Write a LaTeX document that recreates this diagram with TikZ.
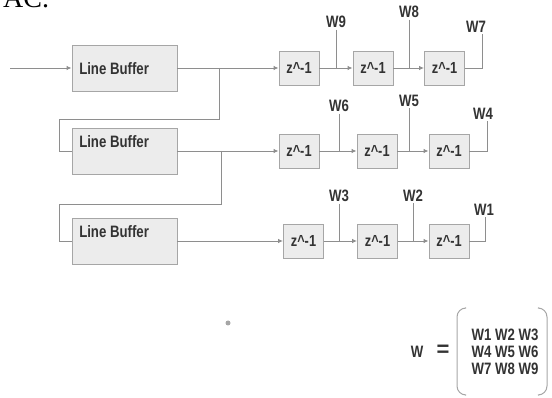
\documentclass[tikz,border=0pt]{standalone}
\usepackage{fontspec}
\setmainfont{Liberation Sans}
\newfontfamily\narrowfont[FakeStretch=0.8]{Liberation Sans}
\newfontfamily\capfont{Liberation Serif}
\usepackage{xcolor}
\definecolor{lineg}{HTML}{8E8E8E}
\definecolor{edge}{HTML}{A6A6A6}
\definecolor{boxfill}{HTML}{ECECEC}
\definecolor{ink}{HTML}{333333}
\usetikzlibrary{arrows.meta,calc}
\tikzset{
  >={Latex[length=5pt,width=4.5pt]},
  lbuf/.style={draw=edge,fill=boxfill,line width=0.9pt,minimum width=105pt,minimum height=46pt,inner sep=0pt},
  zbox/.style={draw=edge,fill=boxfill,line width=0.9pt,minimum width=40pt,minimum height=34pt,inner sep=0pt,font=\narrowfont\bfseries\fontsize{16}{17}\selectfont,text=ink},
  lab/.style={font=\narrowfont\bfseries\fontsize{16.5}{17}\selectfont,text=ink,inner sep=1.5pt},
  arr/.style={->,draw=lineg,line width=0.9pt},
  ln/.style={draw=lineg,line width=0.9pt},
  paren/.style={draw=edge,line width=1pt,rounded corners=9pt},
}
\begin{document}
\begin{tikzpicture}[x=1pt,y=-1pt]
\useasboundingbox (0,0) rectangle (552,398);
\node[font=\capfont\fontsize{28}{30}\selectfont,anchor=base west,inner sep=0pt] (cap) at (3,8) {AC.};
% line buffers
\node[lbuf] (lb1) at (124.5,68) {};
\node[lab,anchor=west] (t1) at ($(lb1.west)+(6,1)$) {Line Buffer};
\node[lbuf] (lb2) at (124.5,151) {};
\node[lab,anchor=west] (t2) at ($(lb2.west)+(6,-9)$) {Line Buffer};
\node[lbuf] (lb3) at (124.5,241) {};
\node[lab,anchor=west] (t3) at ($(lb3.west)+(6,-9)$) {Line Buffer};
% delay elements
\node[zbox] (z11) at (299,68) {z\textasciicircum-1};
\node[zbox] (z12) at (373,68) {z\textasciicircum-1};
\node[zbox] (z13) at (444.5,68) {z\textasciicircum-1};
\node[zbox] (z21) at (299,151) {z\textasciicircum-1};
\node[zbox] (z22) at (377,151) {z\textasciicircum-1};
\node[zbox] (z23) at (449,151) {z\textasciicircum-1};
\node[zbox] (z31) at (303.5,241) {z\textasciicircum-1};
\node[zbox] (z32) at (377.5,241) {z\textasciicircum-1};
\node[zbox] (z33) at (449,241) {z\textasciicircum-1};
% tap labels
\node[lab] (w9) at (336,22) {W9};
\node[lab] (w8) at (409,12) {W8};
\node[lab] (w7) at (476,27) {W7};
\node[lab] (w6) at (339,106) {W6};
\node[lab] (w5) at (409,101) {W5};
\node[lab] (w4) at (483,114) {W4};
\node[lab] (w3) at (339,196) {W3};
\node[lab] (w2) at (413,196) {W2};
\node[lab] (w1) at (484,210) {W1};
% row 1
\coordinate (in) at (10,68);
\draw[arr] (in) -- (lb1);
\draw[arr] (lb1) -- (z11);
\draw[arr] (z11) -- (z12);
\draw[arr] (z12) -- (z13);
\draw[ln] (w9) -- (w9 |- z11);
\draw[ln] (w8) -- (w8 |- z12);
\draw[ln] (z13) -| ([xshift=6pt]w7.south);
% row 2
\coordinate (b1) at (219,68);
\coordinate (k1) at (59,119);
\draw[ln] (b1) |- (k1) |- (lb2);
\draw[arr] (lb2) -- (z21);
\draw[arr] (z21) -- (z22);
\draw[arr] (z22) -- (z23);
\draw[ln] (w6) -- (w6 |- z21);
\draw[ln] (w5) -- (w5 |- z22);
\draw[ln] (z23) -| ([xshift=4pt]w4.south);
% row 3
\coordinate (b2) at (221,151);
\coordinate (k2) at (59,204);
\draw[ln] (b2) |- (k2) |- (lb3);
\draw[arr] (lb3) -- (z31);
\draw[arr] (z31) -- (z32);
\draw[arr] (z32) -- (z33);
\draw[ln] (w3) -- (w3 |- z31);
\draw[ln] (w2) -- (w2 |- z32);
\draw[ln] (z33) -| ([xshift=1pt]w1.south);
% coefficient matrix
\fill[edge] (228,323) circle (2.5pt);
\node[lab] (wsym) at (417,352) {W};
\node[lab,font=\bfseries\fontsize{22}{22}\selectfont] (eq) at (443,351) {=};
\node[lab,align=center] (wmat) at (505,352) {W1 W2 W3\\W4 W5 W6\\W7 W8 W9};
\draw[paren] ($(wmat.center)+(-40,-44)$) -- ++(-8,0) -- ++(0,87) -- ++(8,0);
\draw[paren] ($(wmat.center)+(34,-44)$) -- ++(8,0) -- ++(0,87) -- ++(-8,0);
\end{tikzpicture}
\end{document}
